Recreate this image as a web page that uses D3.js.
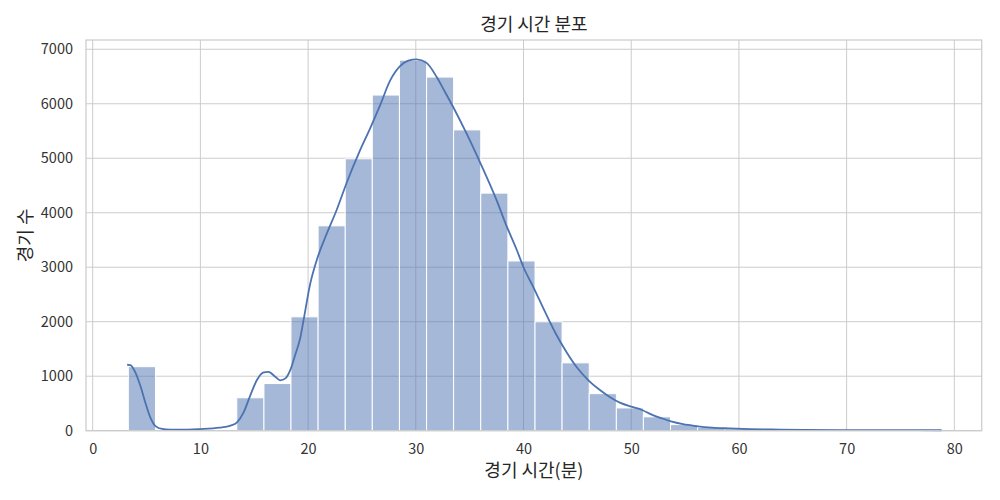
<!DOCTYPE html>
<html>
<head>
<meta charset="utf-8">
<script src="https://cdn.jsdelivr.net/npm/d3@7"></script>
<style>
	body { margin: 0; background: #ffffff; }
	text { font-family: "Noto Sans CJK KR", "Noto Sans", sans-serif; }
</style>
</head>
<body>
<svg id="chart" width="1000" height="500"></svg>
<script>
// bin edges (minutes)
var bin_edges = [3.31, 5.83, 8.34, 10.86, 13.38, 15.90, 18.41, 20.93, 23.45, 25.96,
	28.48, 31.00, 33.51, 36.03, 38.55, 41.07, 43.58, 46.10, 48.62, 51.13,
	53.65, 56.17, 58.68, 61.20, 63.72, 66.24, 68.75, 71.27, 73.79, 76.30, 78.82];

// match counts per bin
var bin_counts = [1175, 0, 0, 0, 604, 865, 2090, 3760, 4990, 6160,
	6800, 6490, 5520, 4360, 3115, 1998, 1245, 680, 418, 255,
	112, 60, 35, 22, 15, 12, 10, 8, 7, 6];

// kde curve
var kde_x = [3.2, 3.5, 3.98, 4.44, 4.9, 5.37, 5.83, 6.45, 7.2, 8.1,
	9.9, 11.8, 12.8, 13.4, 14.0, 14.6, 15.25, 15.87, 16.33, 16.95,
	17.41, 17.9, 18.34, 18.8, 19.27, 19.58, 20.2, 20.8, 21.74, 22.67,
	23.6, 24.83, 25.76, 26.7, 27.6, 28.54, 29.3, 30.08, 31.0, 31.94,
	32.7, 33.47, 34.72, 35.95, 37.5, 38.42, 39.35, 40.0, 41.0, 42.0,
	43.0, 44.0, 45.0, 46.0, 47.0, 48.0, 49.0, 50.0, 51.0, 51.8, 52.8,
	53.7, 54.8, 56.0, 57.5, 59.1, 61.0, 63.0, 66.0, 70.0, 74.0, 78.82];
var kde_y = [1210, 1205, 1060, 815, 510, 235, 85, 32, 20, 18,
	30, 55, 92, 152, 330, 630, 930, 1070, 1080, 990,
	925, 960, 1110, 1390, 1700, 2030, 2700, 3130, 3620, 4060,
	4560, 5150, 5550, 5980, 6420, 6690, 6790, 6815, 6750, 6490,
	6220, 5940, 5450, 4930, 4230, 3760, 3330, 3000, 2600, 2180,
	1780, 1440, 1150, 930, 760, 620, 510, 440, 380, 305, 230,
	170, 120, 85, 55, 42, 30, 22, 15, 12, 10, 8];

var x_ticks = [0, 10, 20, 30, 40, 50, 60, 70, 80];
var y_ticks = [0, 1000, 2000, 3000, 4000, 5000, 6000, 7000];

var title_text = '경기 시간 분포';
var x_label = '경기 시간(분)';
var y_label = '경기 수';

var BLUE = '#4c72b0';
var GRID = '#cccccc';

var margin = { left: 86, right: 18.3, top: 40, bottom: 69.3 };
var width = 1000, height = 500;

var svg = d3.select('#chart');

function draw_chart()
{
	var x = d3.scaleLinear()
				.domain([-0.62, 82.54])
				.range([margin.left, width - margin.right]);
	var y = d3.scaleLinear()
				.domain([0, 7170])
				.range([height - margin.bottom, margin.top]);

	// grid
	var grid = svg.append('g').attr('id', 'grid');
	grid.selectAll('line.gx')
		.data(x_ticks)
		.enter()
		.append('line')
			.attr('x1', function(d) { return x(d); })
			.attr('x2', function(d) { return x(d); })
			.attr('y1', margin.top)
			.attr('y2', height - margin.bottom)
			.attr('stroke', GRID)
			.attr('stroke-width', 1);
	grid.selectAll('line.gy')
		.data(y_ticks)
		.enter()
		.append('line')
			.attr('x1', margin.left)
			.attr('x2', width - margin.right)
			.attr('y1', function(d) { return y(d); })
			.attr('y2', function(d) { return y(d); })
			.attr('stroke', GRID)
			.attr('stroke-width', 1);

	// bars
	var bins = bin_counts.map(function(c, i) {
		return { x0: bin_edges[i], x1: bin_edges[i + 1], count: c };
	});

	svg.append('g')
		.attr('id', 'bars')
		.selectAll('rect')
		.data(bins)
		.enter()
		.append('rect')
			.attr('x', function(d) { return x(d.x0); })
			.attr('width', function(d) { return x(d.x1) - x(d.x0); })
			.attr('y', function(d) { return y(d.count); })
			.attr('height', function(d) { return y(0) - y(d.count); })
			.attr('fill', BLUE)
			.attr('fill-opacity', 0.5)
			.attr('stroke', '#ffffff')
			.attr('stroke-width', 1);

	// kde line
	var kde = kde_x.map(function(v, i) { return [v, kde_y[i]]; });
	var line = d3.line()
				.x(function(d) { return x(d[0]); })
				.y(function(d) { return y(d[1]); })
				.curve(d3.curveMonotoneX);

	svg.append('path')
		.datum(kde)
		.attr('d', line)
		.attr('fill', 'none')
		.attr('stroke', BLUE)
		.attr('stroke-width', 1.8);

	// frame
	svg.append('rect')
		.attr('x', margin.left)
		.attr('y', margin.top)
		.attr('width', width - margin.left - margin.right)
		.attr('height', height - margin.top - margin.bottom)
		.attr('fill', 'none')
		.attr('stroke', GRID)
		.attr('stroke-width', 1.25);

	// axes
	var x_axis = svg.append('g')
		.attr('transform', 'translate(0,' + (height - margin.bottom) + ')')
		.call(d3.axisBottom(x).tickValues(x_ticks).tickSize(0).tickPadding(13));
	var y_axis = svg.append('g')
		.attr('transform', 'translate(' + margin.left + ',0)')
		.call(d3.axisLeft(y).tickValues(y_ticks).tickSize(0).tickPadding(13).tickFormat(d3.format('d')));

	[x_axis, y_axis].forEach(function(a) {
		a.select('.domain').remove();
		a.selectAll('text')
			.attr('fill', '#333333')
			.style('font-size', '14.5px')
			.style('font-family', '"Noto Sans CJK KR", "Noto Sans", sans-serif');
	});

	// labels
	svg.append('text')
		.attr('x', (margin.left + width - margin.right) / 2)
		.attr('y', 31)
		.attr('text-anchor', 'middle')
		.attr('fill', '#262626')
		.style('font-size', '18px')
		.text(title_text);

	svg.append('text')
		.attr('x', (margin.left + width - margin.right) / 2)
		.attr('y', 477)
		.attr('text-anchor', 'middle')
		.attr('fill', '#262626')
		.style('font-size', '18px')
		.text(x_label);

	svg.append('text')
		.attr('transform', 'translate(32,' + ((margin.top + height - margin.bottom) / 2) + ') rotate(-90)')
		.attr('text-anchor', 'middle')
		.attr('fill', '#262626')
		.style('font-size', '18px')
		.text(y_label);
}

draw_chart();
</script>
</body>
</html>
